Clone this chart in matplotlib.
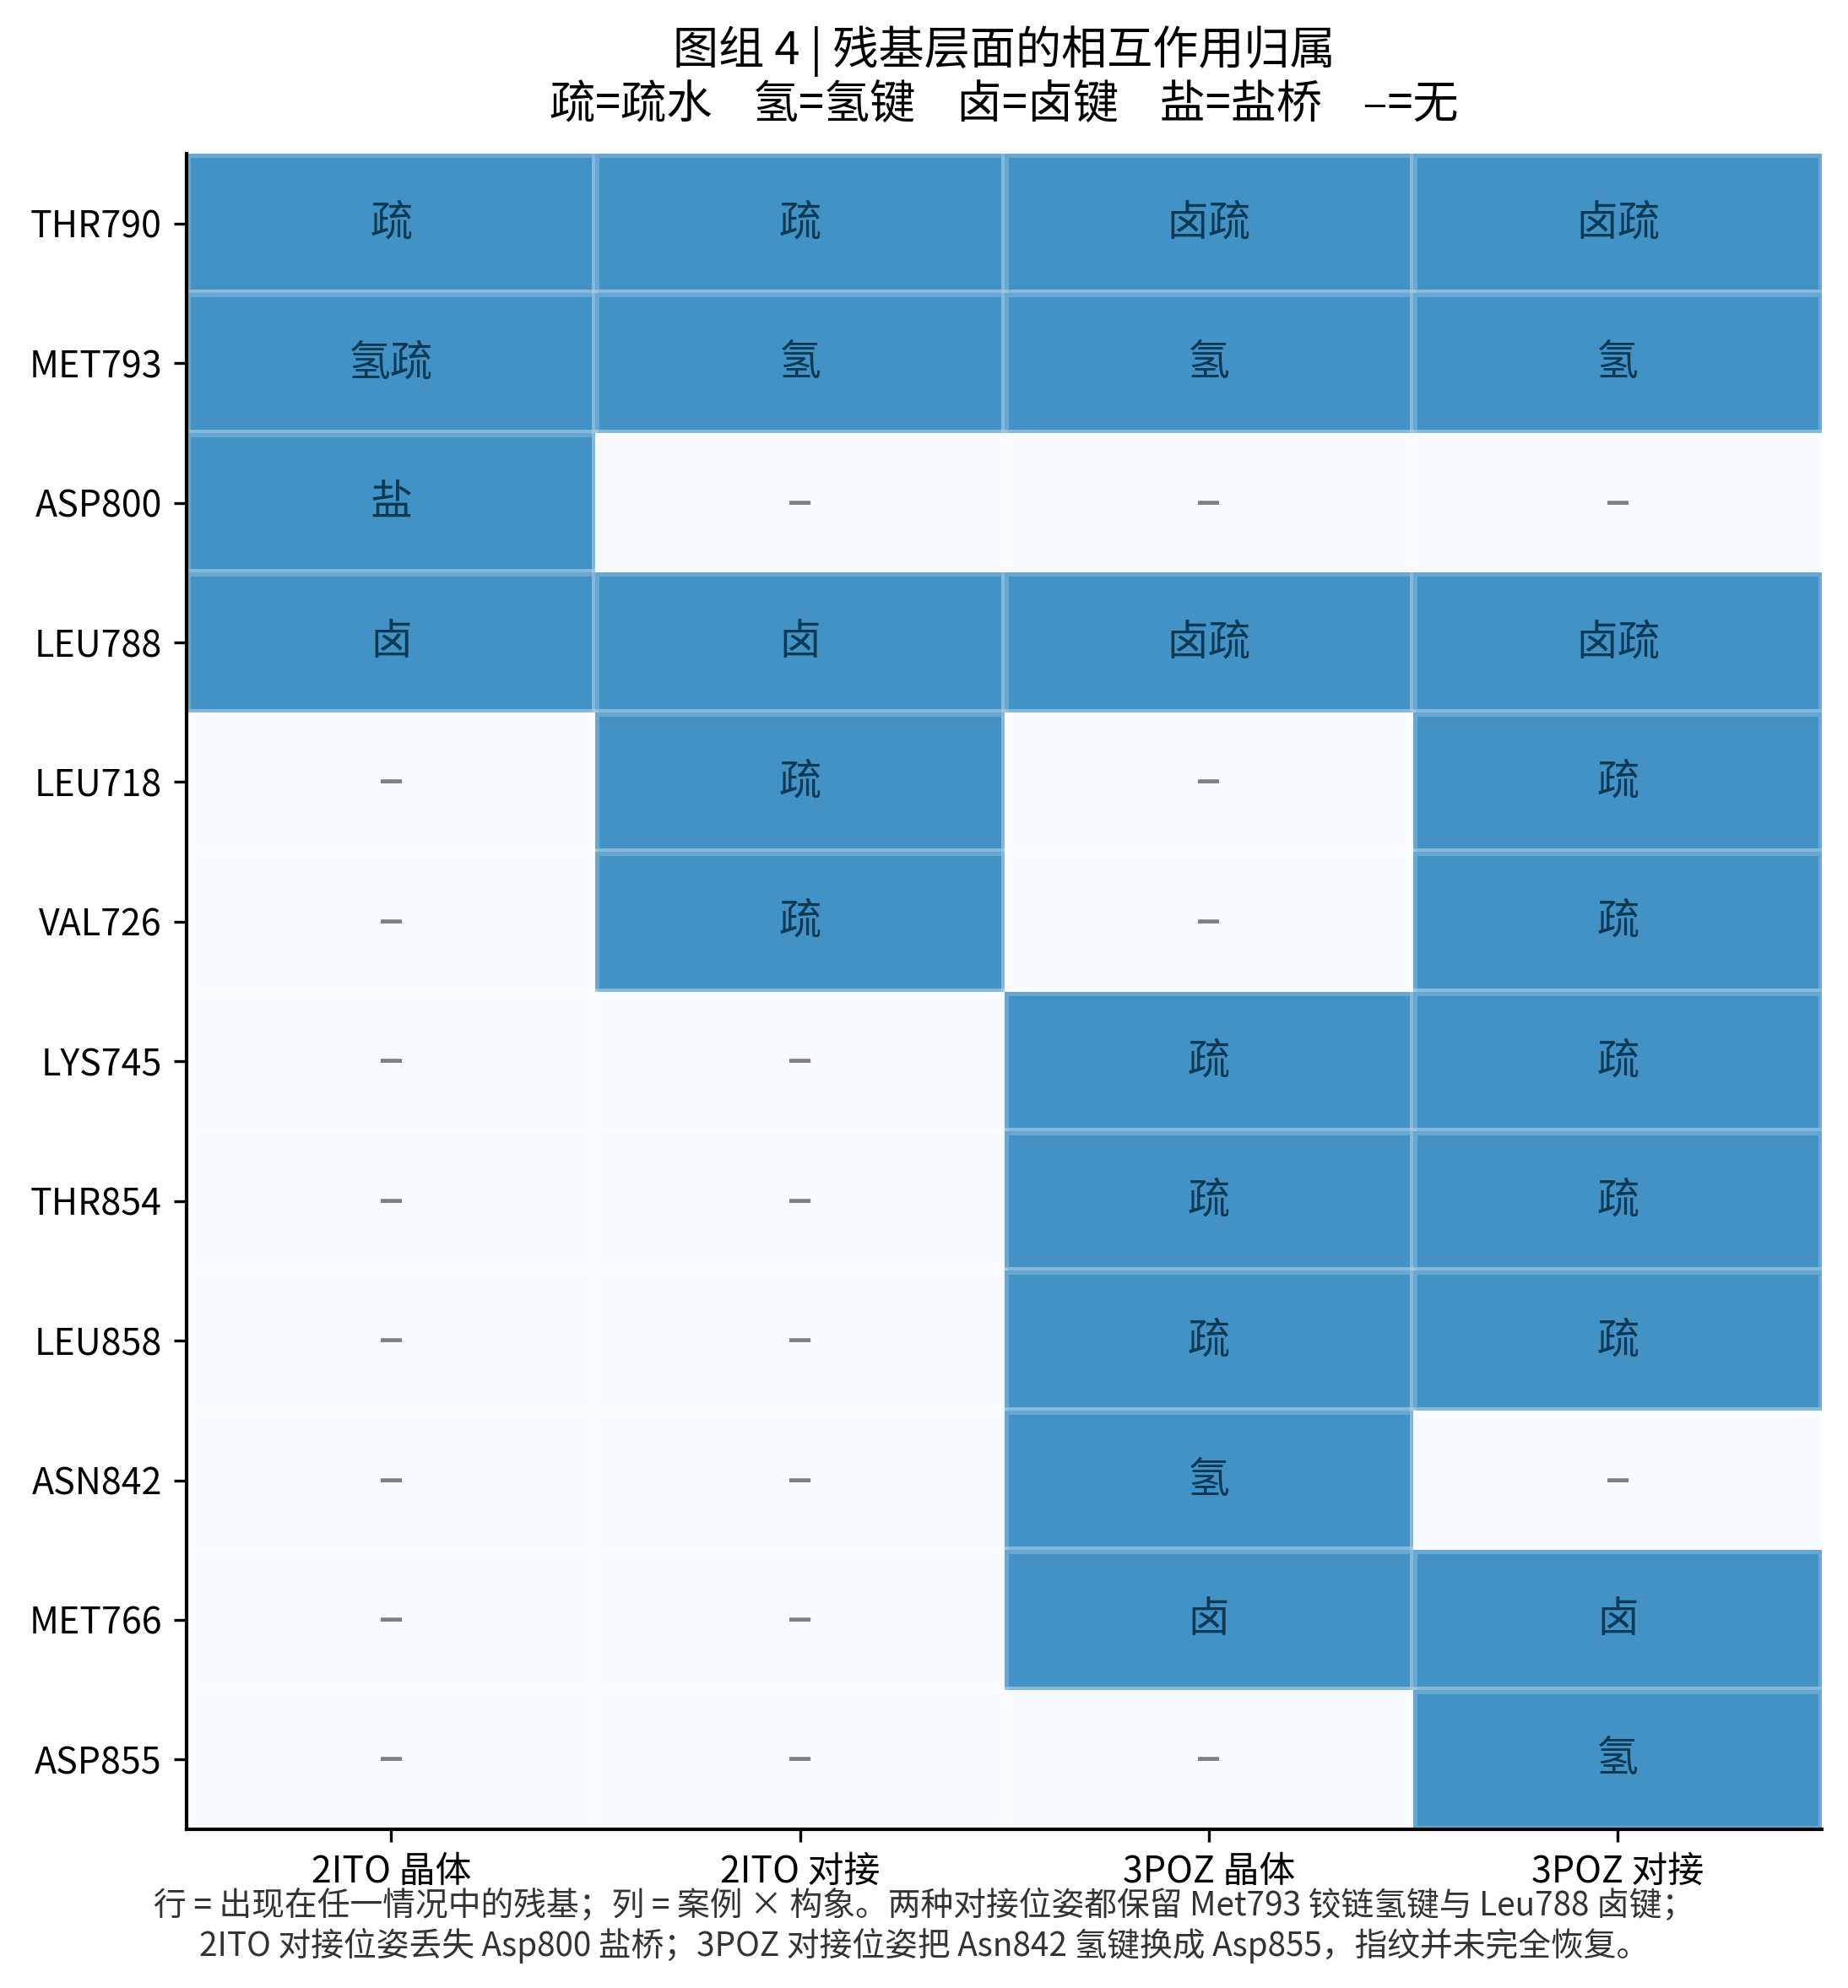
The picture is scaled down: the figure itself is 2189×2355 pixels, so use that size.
import numpy as np
import matplotlib
matplotlib.use("Agg")
import matplotlib.pyplot as plt
from matplotlib.colors import ListedColormap

plt.rcParams['font.family'] = ['Noto Sans CJK SC', 'DejaVu Sans']

# residues (rows) and case x conformation (columns)
residues = ['THR790', 'MET793', 'ASP800', 'LEU788', 'LEU718', 'VAL726',
            'LYS745', 'THR854', 'LEU858', 'ASN842', 'MET766', 'ASP855']
cases = ['2ITO 晶体', '2ITO 对接', '3POZ 晶体', '3POZ 对接']

# interaction labels per column, '' means none
col_2ito_xtal = ['疏', '氢疏', '盐', '卤', '', '', '', '', '', '', '', '']
col_2ito_dock = ['疏', '氢', '', '卤', '疏', '疏', '', '', '', '', '', '']
col_3poz_xtal = ['卤疏', '氢', '', '卤疏', '', '', '疏', '疏', '疏', '氢', '卤', '']
col_3poz_dock = ['卤疏', '氢', '', '卤疏', '疏', '疏', '疏', '疏', '疏', '', '卤', '氢']

title = '图组 4 | 残基层面的相互作用归属\n疏=疏水    氢=氢键    卤=卤键    盐=盐桥    –=无'
footer = ('行 = 出现在任一情况中的残基；列 = 案例 × 构象。两种对接位姿都保留 Met793 铰链氢键与 Leu788 卤键；\n'
          '2ITO 对接位姿丢失 Asp800 盐桥；3POZ 对接位姿把 Asn842 氢键换成 Asp855，指纹并未完全恢复。')


def main():
    labels = np.array([col_2ito_xtal, col_2ito_dock, col_3poz_xtal, col_3poz_dock]).T
    present = (labels != '').astype(float)

    fig = plt.figure(figsize=(2189 / 300, 2355 / 300), dpi=300)
    ax = fig.add_axes([0.101, 0.0798, 0.885, 0.8429])

    cmap = ListedColormap(['#f7fbff', '#4292c6'])
    ax.pcolormesh(np.arange(len(cases) + 1), np.arange(len(residues) + 1), present,
                  cmap=cmap, vmin=0, vmax=1,
                  edgecolors=(1, 1, 1, 0.2), linewidth=1.7)
    ax.set_xlim(0, len(cases))
    ax.set_ylim(len(residues), 0)

    for i in range(len(residues)):
        for j in range(len(cases)):
            if labels[i, j]:
                ax.text(j + 0.5, i + 0.5, labels[i, j], ha='center', va='center',
                        fontsize=12, color='#0c3a55')
            else:
                ax.text(j + 0.5, i + 0.5, '–', ha='center', va='center',
                        fontsize=15, color='#7f7f7f', family=['DejaVu Sans'])

    ax.set_xticks(np.arange(len(cases)) + 0.5)
    ax.set_xticklabels(cases, fontsize=10.3)
    ax.set_yticks(np.arange(len(residues)) + 0.5)
    ax.set_yticklabels(residues, fontsize=10.3)
    ax.spines['top'].set_visible(False)
    ax.spines['right'].set_visible(False)
    ax.spines['left'].set_linewidth(1.0)
    ax.spines['bottom'].set_linewidth(1.0)

    ax.set_title(title, fontsize=13, pad=10, linespacing=1.15)
    fig.text(0.5, 0.031, footer, ha='center', va='center', fontsize=9.3,
             color='#333333', linespacing=1.15)

    fig.savefig('out.png', dpi=300)
    plt.close(fig)


if __name__ == "__main__":
    main()
